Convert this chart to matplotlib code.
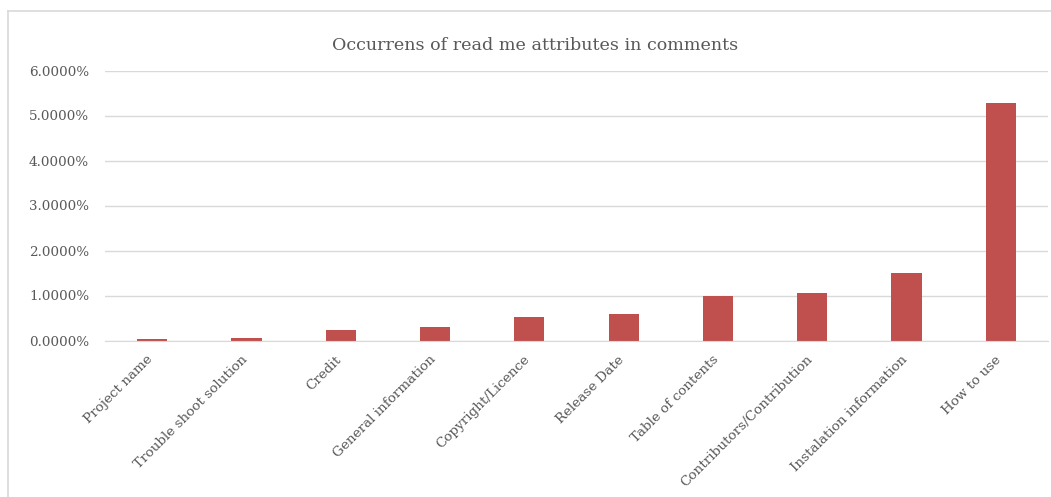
import numpy as np
import matplotlib
matplotlib.use("Agg")
import matplotlib.pyplot as plt
import matplotlib.transforms as mtransforms
from matplotlib.lines import Line2D
from matplotlib.ticker import FuncFormatter

categories = ["Project name", "Trouble shoot solution", "Credit", "General information",
              "Copyright/Licence", "Release Date", "Table of contents",
              "Contributors/Contribution", "Instalation information", "How to use"]
# share of comments mentioning each attribute, in percent
occurrence = [0.03, 0.06, 0.23, 0.30, 0.52, 0.58, 1.00, 1.05, 1.49, 5.27]

plt.rcParams["font.family"] = ["DejaVu Serif"]
TEXT = "#595959"
W, H = 1051, 497

fig = plt.figure(figsize=(W / 100, H / 100), dpi=100)
# chart area frame (top and left edges only)
fig.lines.append(Line2D([7.5 / W, 1], [1 - 10.5 / H] * 2, transform=fig.transFigure,
                        color="#d9d9d9", linewidth=1.2))
fig.lines.append(Line2D([7.5 / W] * 2, [0, 1 - 10.5 / H], transform=fig.transFigure,
                        color="#d9d9d9", linewidth=1.2))

ax = fig.add_axes([105 / W, 1 - 340.5 / H, 943 / W, 270 / H])
x = np.arange(len(categories))
ax.bar(x, occurrence, width=0.32, color="#c0504d", zorder=2)

ax.set_xlim(-0.5, len(categories) - 0.5)
ax.set_ylim(0, 6)
ax.set_yticks(np.arange(0, 7, 1))
ax.yaxis.set_major_formatter(FuncFormatter(lambda v, _: f"{v:.4f}%"))
ax.grid(axis="y", color="#d9d9d9", linewidth=1, zorder=0)
for s in ["top", "right", "left"]:
    ax.spines[s].set_visible(False)
ax.spines["bottom"].set_color("#d9d9d9")
ax.tick_params(axis="both", length=0, colors=TEXT, labelsize=9.7)
ax.tick_params(axis="y", pad=11.5)
ax.set_xticks(x)
ax.set_xticklabels(categories, rotation=45, ha="right", rotation_mode="anchor")
ax.tick_params(axis="x", pad=9)
shift = mtransforms.ScaledTranslation(-6 / 100, 0, fig.dpi_scale_trans)
for lbl in ax.get_xticklabels():
    lbl.set_transform(lbl.get_transform() + shift)

fig.text(535 / W, 1 - 45 / H, "Occurrens of read me attributes in comments",
         ha="center", va="center", fontsize=12.6, color=TEXT)

plt.savefig("out.png", dpi=100)
plt.close()
